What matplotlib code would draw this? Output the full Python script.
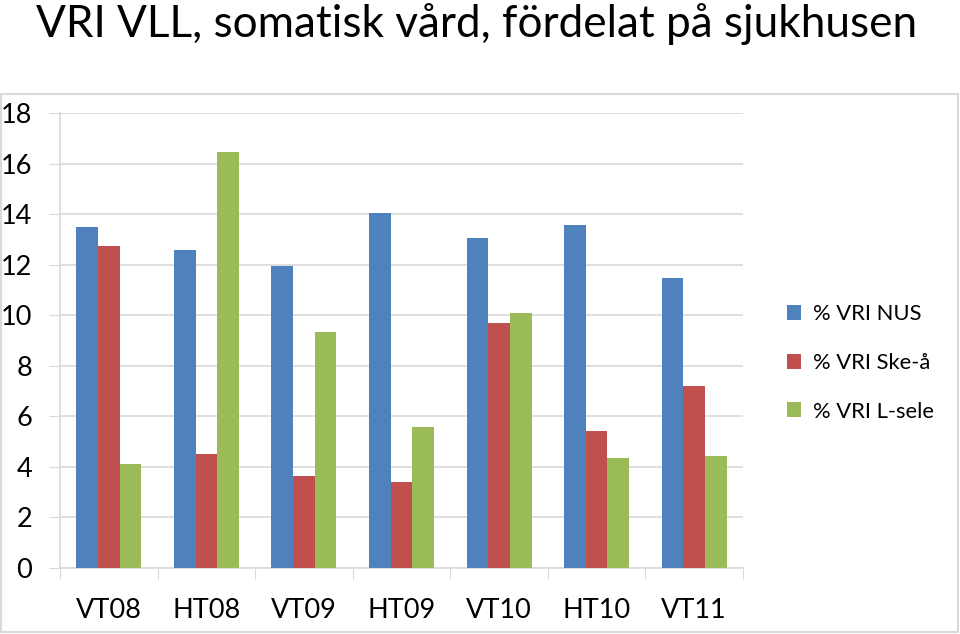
import matplotlib
matplotlib.use("Agg")
import matplotlib.pyplot as plt
import numpy as np
from matplotlib.patches import Rectangle, Patch

categories = ["VT08", "HT08", "VT09", "HT09", "VT10", "HT10", "VT11"]
series_names = ["% VRI NUS", "% VRI Ske-å", "% VRI L-sele"]
nus = [13.5, 12.6, 11.95, 14.05, 13.07, 13.56, 11.47]
ske = [12.75, 4.52, 3.63, 3.38, 9.68, 5.40, 7.20]
lsele = [4.12, 16.47, 9.35, 5.56, 10.08, 4.35, 4.43]
yticks = [0, 2, 4, 6, 8, 10, 12, 14, 16, 18]
title = "VRI VLL, somatisk vård, fördelat på sjukhusen"

colors = ["#4F81BD", "#C0504D", "#9BBB59"]
grid_c = "#D9D9D9"

plt.rcParams['font.family'] = ['Lato', 'DejaVu Sans']

fig = plt.figure(figsize=(9.6, 6.34), dpi=100)
W, H = 960, 634

# outer chart frame
fig.patches.append(Rectangle((1 / W, 1 - 632 / H), 957 / W, 538 / H,
                             transform=fig.transFigure, fill=False,
                             edgecolor=grid_c, linewidth=1.5))

ax = fig.add_axes([60 / W, 1 - 567.7 / H, 683 / W, (567.7 - 113.3) / H])

x = np.arange(len(categories))
bw = 1 / 4.5
for i, (vals, c) in enumerate(zip([nus, ske, lsele], colors)):
    ax.bar(x + (i - 1) * bw, vals, width=bw, color=c, zorder=3, linewidth=0)

ax.set_xlim(-0.5, len(categories) - 0.5)
ax.set_ylim(0, 18)
ax.set_yticks(yticks)
ax.set_yticklabels([str(v) for v in yticks], fontsize=19.5)
ax.yaxis.grid(True, color=grid_c, linewidth=1.2, zorder=0)
ax.tick_params(axis='y', length=8, color=grid_c, pad=12, labelcolor="black")

# category boundary ticks
ax.set_xticks(np.arange(len(categories) + 1) - 0.5)
ax.set_xticklabels([""] * (len(categories) + 1))
ax.set_xticks(x, minor=True)
ax.set_xticklabels(categories, minor=True, fontsize=19.5)
ax.tick_params(axis='x', which='major', length=8, color=grid_c)
ax.tick_params(axis='x', which='minor', length=0, pad=22)

for s in ["top", "right"]:
    ax.spines[s].set_visible(False)
for s in ["left", "bottom"]:
    ax.spines[s].set_color(grid_c)
    ax.spines[s].set_linewidth(1.2)

fig.text(36 / W, 1 - 37 / H, title, fontsize=31.8, ha="left", va="baseline")

handles = [Patch(facecolor=c, edgecolor="none") for c in colors]
fig.legend(handles, series_names, loc="center left",
           bbox_to_anchor=(787 / W, 1 - 363 / H), frameon=False,
           fontsize=15.8, handlelength=0.65, handleheight=0.65,
           handletextpad=0.55, labelspacing=1.3, borderaxespad=0,
           borderpad=0)

fig.savefig("out.png", dpi=100)
